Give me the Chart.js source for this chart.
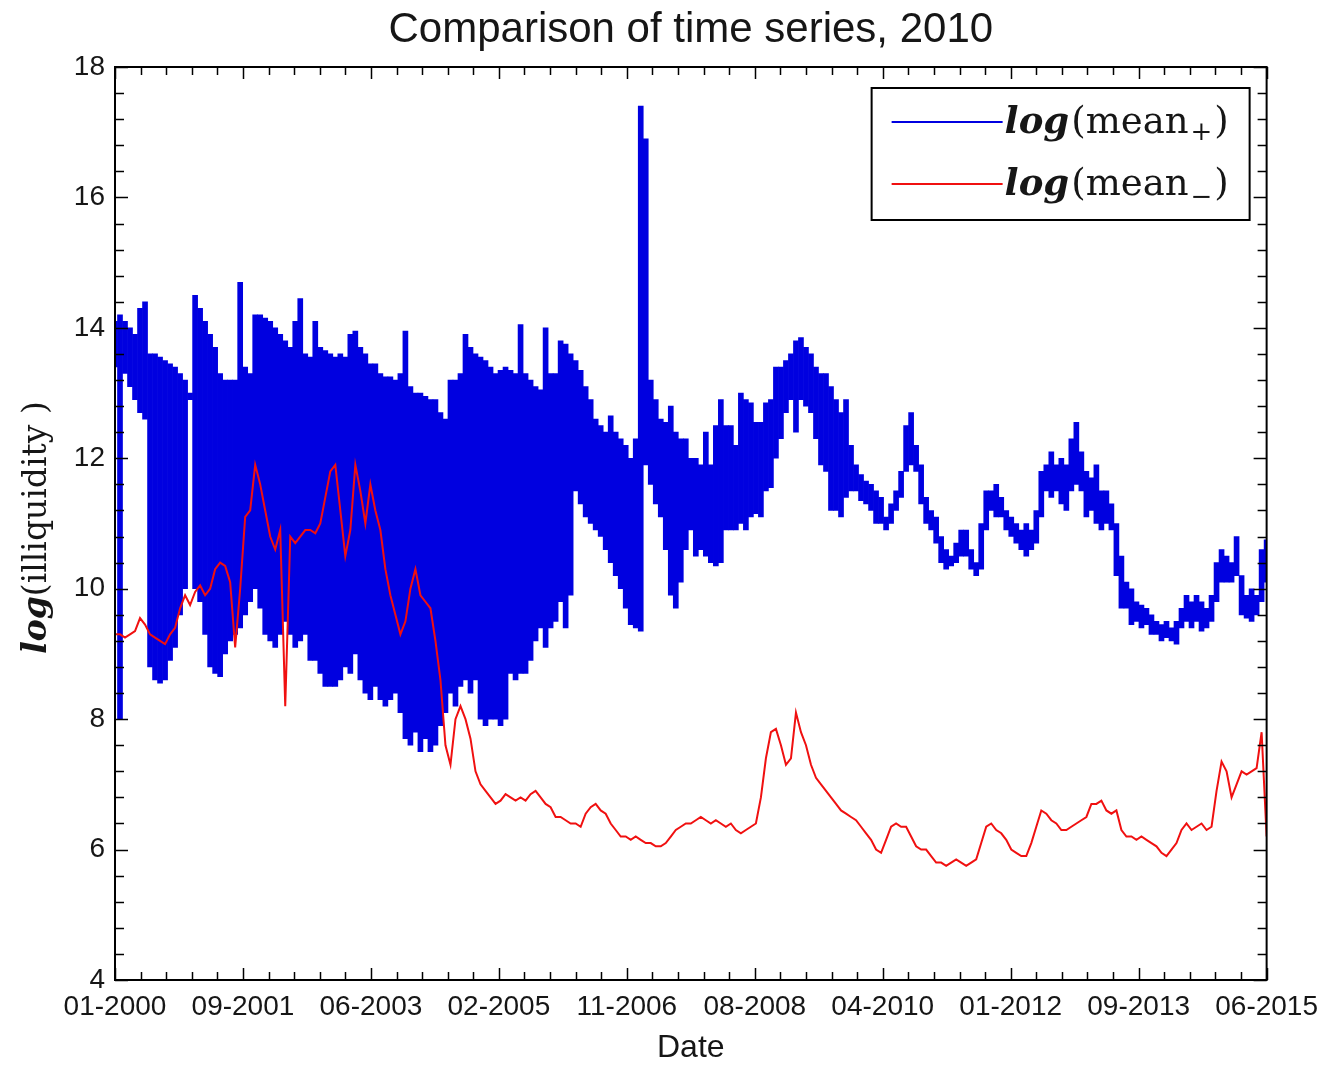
<!DOCTYPE html>
<html>
<head>
<meta charset="utf-8">
<script src="https://cdn.jsdelivr.net/npm/chart.js@4.4.1/dist/chart.umd.min.js"></script>
<style>
  html, body { margin: 0; padding: 0; background: #fff; }
  #chart { display: block; }
</style>
</head>
<body>
<canvas id="chart" width="1328" height="1067"></canvas>
<script>
// x axis tick labels (evenly spaced dates)
const tickLabels = ["01-2000", "09-2001", "06-2003", "02-2005", "11-2006", "08-2008", "04-2010", "01-2012", "09-2013", "06-2015"];

// log(mean+) : upper and lower envelope of the dense series, one column per sample
const blueHigh = [
  14.1, 14.2, 14.1, 14.0, 13.9, 14.3, 14.4, 13.6, 13.6, 13.55,
  13.5, 13.45, 13.4, 13.3, 13.2, 13.0, 14.5, 14.3, 14.1, 13.9,
  13.7, 13.3, 13.2, 13.2, 13.2, 14.7, 13.4, 13.3, 14.2, 14.2,
  14.15, 14.1, 14.0, 13.9, 13.8, 13.7, 14.1, 14.45, 13.6, 13.55,
  14.1, 13.7, 13.65, 13.6, 13.55, 13.6, 13.55, 13.9, 13.95, 13.7,
  13.6, 13.45, 13.45, 13.3, 13.25, 13.25, 13.2, 13.3, 13.95, 13.1,
  13.0, 13.0, 12.95, 12.9, 12.9, 12.7, 12.6, 13.2, 13.2, 13.3,
  13.9, 13.7, 13.6, 13.55, 13.5, 13.4, 13.3, 13.35, 13.4, 13.35,
  13.3, 14.05, 13.3, 13.2, 13.1, 13.05, 14.0, 13.3, 13.3, 13.8,
  13.75, 13.6, 13.5, 13.35, 13.1, 12.9, 12.6, 12.5, 12.4, 12.65,
  12.4, 12.3, 12.2, 12.0, 12.3, 17.4, 16.9, 13.2, 12.9, 12.6,
  12.55, 12.8, 12.4, 12.3, 12.3, 12.0, 12.0, 11.9, 12.4, 11.9,
  12.5, 12.9, 12.5, 12.5, 12.2, 13.0, 12.9, 12.85, 12.55, 12.55,
  12.85, 12.9, 13.4, 13.4, 13.5, 13.6, 13.8, 13.85, 13.7, 13.6,
  13.4, 13.3, 13.3, 13.1, 12.9, 12.7, 12.9, 12.2, 11.9, 11.75,
  11.65, 11.6, 11.5, 11.4, 11.1, 11.3, 11.5, 11.8, 12.5, 12.7,
  12.2, 11.9, 11.4, 11.2, 11.1, 10.8, 10.6, 10.5, 10.7, 10.9,
  10.9, 10.6, 10.4, 11.0, 11.5, 11.5, 11.6, 11.4, 11.2, 11.1,
  11.0, 10.9, 11.0, 10.9, 11.2, 11.8, 11.9, 12.1, 11.9, 12.0,
  11.9, 12.3, 12.55, 12.1, 11.8, 11.7, 11.9, 11.5, 11.5, 11.3,
  11.0, 10.5, 10.1, 10.0, 9.8, 9.75, 9.7, 9.6, 9.5, 9.45,
  9.5, 9.4, 9.5, 9.7, 9.9, 9.8, 9.9, 9.8, 9.7, 9.9,
  10.4, 10.6, 10.5, 10.4, 10.8, 10.2, 9.9, 10.0, 9.9, 10.6,
  10.75
];
const blueLow = [
  13.4, 8.0, 13.3, 13.1, 12.9, 12.7, 12.6, 8.8, 8.6, 8.55,
  8.6, 8.9, 9.1, 9.6, 10.0, 12.9, 10.0, 9.8, 9.3, 8.8,
  8.7, 8.65, 9.0, 9.2, 9.3, 9.4, 9.6, 9.8, 10.0, 9.7,
  9.3, 9.2, 9.1, 9.3, 9.5, 9.3, 9.1, 9.2, 9.3, 8.9,
  8.9, 8.7, 8.5, 8.5, 8.5, 8.6, 8.8, 8.7, 9.0, 8.6,
  8.4, 8.3, 8.5, 8.3, 8.2, 8.3, 8.4, 8.1, 7.7, 7.6,
  7.8, 7.5, 7.7, 7.5, 7.6, 7.9, 8.1, 8.4, 8.2, 8.5,
  8.6, 8.4, 8.6, 8.0, 7.9, 8.0, 8.0, 7.9, 8.0, 8.7,
  8.6, 8.7, 8.7, 8.9, 9.2, 9.4, 9.1, 9.4, 9.5, 9.8,
  9.4, 9.9, 11.5, 11.3, 11.1, 11.0, 10.9, 10.8, 10.6, 10.4,
  10.2, 10.0, 9.7, 9.45, 9.4, 9.35, 11.9, 11.6, 11.3, 11.1,
  10.6, 9.9, 9.7, 10.1, 10.6, 10.9, 10.5, 10.6, 10.5, 10.4,
  10.35, 10.4, 10.9, 10.9, 10.9, 11.0, 10.9, 11.1, 11.15, 11.1,
  11.5, 11.55, 12.0, 12.3, 12.7, 12.9, 12.4, 12.9, 12.8, 12.7,
  12.3, 11.9, 11.8, 11.2, 11.2, 11.1, 11.4, 11.5, 11.5, 11.35,
  11.3, 11.2, 11.0, 11.0, 10.9, 11.0, 11.2, 11.4, 11.8, 11.9,
  11.8, 11.3, 11.0, 10.9, 10.7, 10.4, 10.3, 10.35, 10.4, 10.5,
  10.5, 10.3, 10.2, 10.3, 10.9, 11.2, 11.1, 11.1, 10.9, 10.8,
  10.7, 10.6, 10.5, 10.6, 10.7, 11.1, 11.5, 11.4, 11.5, 11.3,
  11.2, 11.5, 11.6, 11.5, 11.1, 11.2, 11.0, 10.9, 11.0, 10.9,
  10.2, 9.7, 9.7, 9.45, 9.5, 9.4, 9.45, 9.3, 9.3, 9.2,
  9.25, 9.2, 9.15, 9.4, 9.5, 9.4, 9.5, 9.35, 9.4, 9.5,
  9.8, 10.1, 10.1, 10.1, 10.2, 9.6, 9.55, 9.5, 9.6, 9.8,
  10.1
];

// log(mean-) : one value per sample
const redValues = [
  9.3, 9.3, 9.25, 9.3, 9.35, 9.55, 9.45, 9.3, 9.25, 9.2,
  9.15, 9.3, 9.4, 9.7, 9.9, 9.75, 9.95, 10.05, 9.9, 10.0,
  10.3, 10.4, 10.35, 10.1, 9.1, 10.0, 11.1, 11.2, 11.9, 11.6,
  11.2, 10.8, 10.6, 10.9, 8.2, 10.8, 10.7, 10.8, 10.9, 10.9,
  10.85, 11.0, 11.4, 11.8, 11.9, 11.2, 10.5, 10.9, 11.9, 11.5,
  11.0, 11.6, 11.2, 10.9, 10.3, 9.9, 9.6, 9.3, 9.5, 10.0,
  10.3, 9.9, 9.8, 9.7, 9.2, 8.6, 7.6, 7.3, 8.0, 8.2,
  8.0, 7.7, 7.2, 7.0, 6.9, 6.8, 6.7, 6.75, 6.85, 6.8,
  6.75, 6.8, 6.75, 6.85, 6.9, 6.8, 6.7, 6.65, 6.5, 6.5,
  6.45, 6.4, 6.4, 6.35, 6.55, 6.65, 6.7, 6.6, 6.55, 6.4,
  6.3, 6.2, 6.2, 6.15, 6.2, 6.15, 6.1, 6.1, 6.05, 6.05,
  6.1, 6.2, 6.3, 6.35, 6.4, 6.4, 6.45, 6.5, 6.45, 6.4,
  6.45, 6.4, 6.35, 6.4, 6.3, 6.25, 6.3, 6.35, 6.4, 6.8,
  7.4, 7.8, 7.85, 7.6, 7.3, 7.4, 8.1, 7.8, 7.6, 7.3,
  7.1, 7.0, 6.9, 6.8, 6.7, 6.6, 6.55, 6.5, 6.45, 6.35,
  6.25, 6.15, 6.0, 5.95, 6.15, 6.35, 6.4, 6.35, 6.35, 6.2,
  6.05, 6.0, 6.0, 5.9, 5.8, 5.8, 5.75, 5.8, 5.85, 5.8,
  5.75, 5.8, 5.85, 6.1, 6.35, 6.4, 6.3, 6.25, 6.15, 6.0,
  5.95, 5.9, 5.9, 6.1, 6.35, 6.6, 6.55, 6.45, 6.4, 6.3,
  6.3, 6.35, 6.4, 6.45, 6.5, 6.7, 6.7, 6.75, 6.6, 6.55,
  6.6, 6.3, 6.2, 6.2, 6.15, 6.2, 6.15, 6.1, 6.05, 5.95,
  5.9, 6.0, 6.1, 6.3, 6.4, 6.3, 6.35, 6.4, 6.3, 6.35,
  6.9, 7.35, 7.2, 6.8, 7.0, 7.2, 7.15, 7.2, 7.25, 7.8,
  6.2
];

const yTicks = [4, 6, 8, 10, 12, 14, 16, 18];

const BLUE = "#0000e0";
const RED = "#f01010";
const TEXT = "#161616";

// samples are spread evenly across the tick range
const lastTick = tickLabels.length - 1;
const step = lastTick / (blueHigh.length - 1);
const bluePoints = blueHigh.map((h, i) => ({ x: i * step, y: [blueLow[i], h] }));
const redPoints = redValues.map((v, i) => ({ x: i * step, y: v }));

// frame with inward ticks on all four sides, plus minor ticks
const frameTicks = {
  id: "frameTicks",
  afterDatasetsDraw(chart) {
    const { ctx, chartArea: a, scales: { x, y } } = chart;
    ctx.save();
    ctx.strokeStyle = "#000";
    ctx.lineWidth = 1.5;
    ctx.beginPath();
    for (let k = 0; k <= lastTick * 5; k++) {
      const px = Math.round(x.getPixelForValue(k / 5)) + 0.5;
      const len = k % 5 === 0 ? 12 : 8;
      ctx.moveTo(px, a.bottom);
      ctx.lineTo(px, a.bottom - len);
      ctx.moveTo(px, a.top);
      ctx.lineTo(px, a.top + len);
    }
    const yMin = yTicks[0];
    const yCount = (yTicks[yTicks.length - 1] - yMin) / 0.4;
    for (let k = 0; k <= yCount; k++) {
      const py = Math.round(y.getPixelForValue(yMin + k * 0.4)) + 0.5;
      const len = k % 5 === 0 ? 13 : 9;
      ctx.moveTo(a.left, py);
      ctx.lineTo(a.left + len, py);
      ctx.moveTo(a.right, py);
      ctx.lineTo(a.right - len, py);
    }
    ctx.stroke();
    ctx.lineWidth = 2;
    ctx.strokeRect(a.left, a.top, a.right - a.left, a.bottom - a.top);
    ctx.restore();
  },
  afterDraw(chart) {
    const { ctx, chartArea: a } = chart;
    ctx.save();
    ctx.fillStyle = TEXT;
    ctx.textBaseline = "alphabetic";

    // y axis title: log(illiquidity )
    const yParts = [
      { text: "log", font: "italic bold 33px 'DejaVu Serif'" },
      { text: "(illiquidity )", font: "33px 'DejaVu Serif'" }
    ];
    let total = 0;
    yParts.forEach(p => { ctx.font = p.font; total += ctx.measureText(p.text).width; });
    ctx.save();
    ctx.translate(46, (a.top + a.bottom) / 2 + 4);
    ctx.rotate(-Math.PI / 2);
    let tx = -total / 2;
    yParts.forEach(p => {
      ctx.font = p.font;
      ctx.fillText(p.text, tx, 0);
      tx += ctx.measureText(p.text).width;
    });
    ctx.restore();

    // legend box in the upper right corner
    const boxL = a.right - 395, boxT = a.top + 21, boxW = 378, boxH = 132;
    ctx.fillStyle = "#fff";
    ctx.fillRect(boxL, boxT, boxW, boxH);
    ctx.strokeStyle = "#000";
    ctx.lineWidth = 2;
    ctx.strokeRect(boxL, boxT, boxW, boxH);
    const rows = [
      { color: BLUE, sub: "+", dy: 34, subDy: 7 },
      { color: RED, sub: "\u2212", dy: 96, subDy: 10 }
    ];
    rows.forEach(r => {
      const base = boxT + r.dy + 11;
      ctx.strokeStyle = r.color;
      ctx.lineWidth = 2;
      ctx.beginPath();
      ctx.moveTo(boxL + 20, boxT + r.dy);
      ctx.lineTo(boxL + 131, boxT + r.dy);
      ctx.stroke();
      ctx.fillStyle = TEXT;
      let lx = boxL + 133;
      const parts = [
        { text: "log", font: "italic bold 37px 'DejaVu Serif'", dy: 0 },
        { text: "(mean", font: "37px 'DejaVu Serif'", dy: 0 },
        { text: r.sub, font: "26px 'DejaVu Serif'", dy: r.subDy },
        { text: ")", font: "37px 'DejaVu Serif'", dy: 0 }
      ];
      parts.forEach(p => {
        ctx.font = p.font;
        ctx.fillText(p.text, lx, base + p.dy);
        lx += ctx.measureText(p.text).width + 2;
      });
    });
    ctx.restore();
  }
};

const ctx = document.getElementById("chart").getContext("2d");
new Chart(ctx, {
  type: "bar",
  data: {
    datasets: [
      {
        type: "bar",
        label: "log(mean+)",
        data: bluePoints,
        backgroundColor: BLUE,
        borderWidth: 0,
        barPercentage: 1,
        categoryPercentage: 1,
        order: 2
      },
      {
        type: "line",
        label: "log(mean-)",
        data: redPoints,
        borderColor: RED,
        borderWidth: 2,
        pointRadius: 0,
        tension: 0,
        fill: false,
        order: 1
      }
    ]
  },
  options: {
    responsive: false,
    animation: false,
    events: [],
    layout: { padding: { left: 0, right: 60, top: 0, bottom: 0 } },
    plugins: {
      legend: { display: false },
      tooltip: { enabled: false },
      title: {
        display: true,
        // only as wide as the plot, so the text is centred over it
        fullSize: false,
        text: "Comparison of time series, 2010",
        color: TEXT,
        font: { family: "'Liberation Sans', Arial, sans-serif", size: 42, weight: "normal" },
        padding: { top: 5, bottom: 11.6 }
      }
    },
    scales: {
      x: {
        type: "linear",
        min: 0,
        max: lastTick,
        offset: false,
        grid: { display: false, drawTicks: false },
        border: { display: false },
        ticks: {
          stepSize: 1,
          padding: 10,
          autoSkip: false,
          maxRotation: 0,
          color: TEXT,
          font: { family: "'Liberation Sans', Arial, sans-serif", size: 28 },
          callback: v => tickLabels[v]
        },
        title: {
          display: true,
          text: "Date",
          color: TEXT,
          font: { family: "'Liberation Sans', Arial, sans-serif", size: 32 },
          padding: { top: 0, bottom: 0 }
        },
        afterFit: s => { s.height = 87; }
      },
      y: {
        min: yTicks[0],
        max: yTicks[yTicks.length - 1],
        grid: { display: false, drawTicks: false },
        border: { display: false },
        ticks: {
          stepSize: 2,
          padding: 10,
          color: TEXT,
          font: { family: "'Liberation Sans', Arial, sans-serif", size: 28 }
        },
        afterFit: s => { s.width = 115; }
      }
    }
  },
  plugins: [frameTicks]
});
</script>
</body>
</html>
